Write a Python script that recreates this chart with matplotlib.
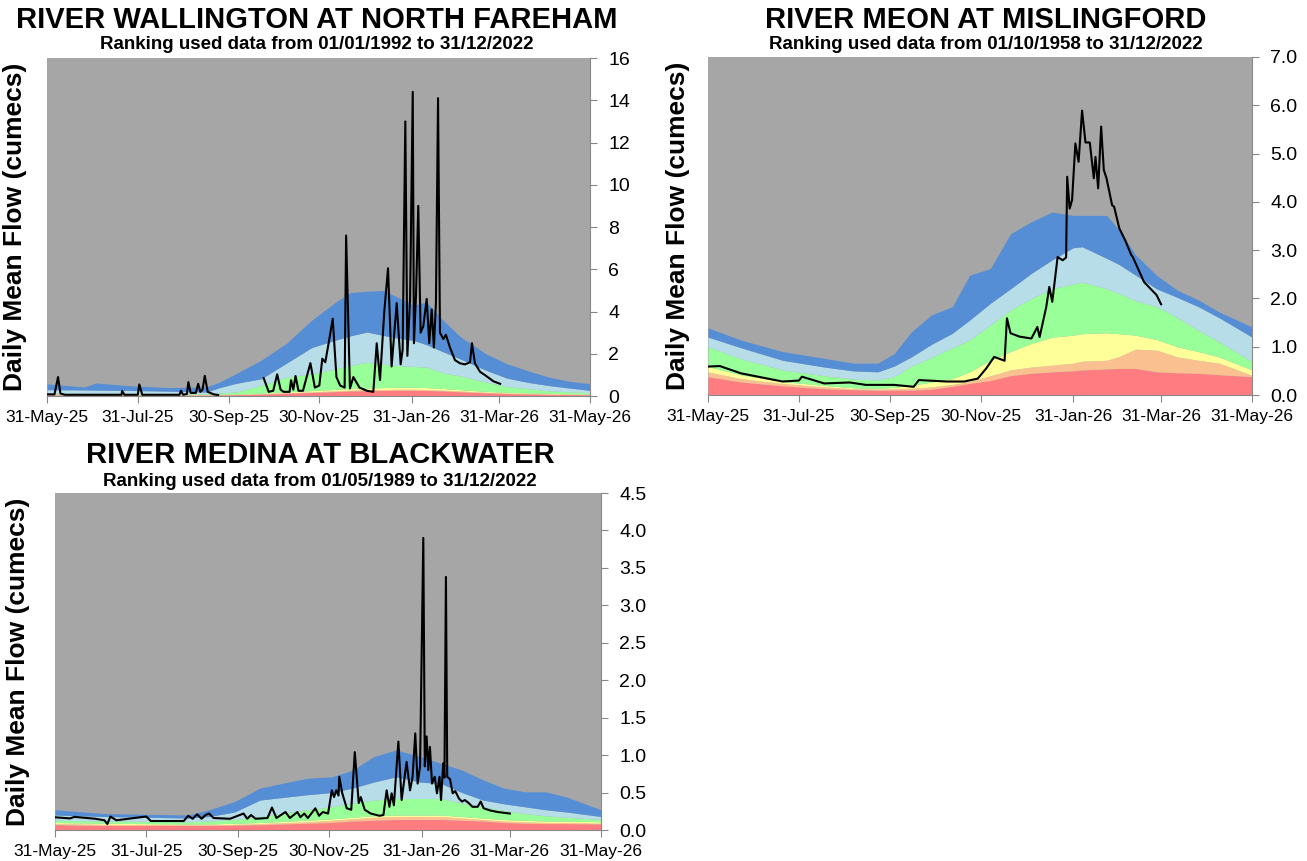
import numpy as np
import matplotlib.pyplot as plt
import matplotlib.dates as mdates

plt.rcParams['font.family'] = ['Liberation Sans', 'DejaVu Sans']

START = np.datetime64('2025-05-31')
tick_dates = ['2025-05-31', '2025-07-31', '2025-09-30', '2025-11-30',
              '2026-01-31', '2026-03-31', '2026-05-31']

band_colors = ['#FF7C80', '#FAC090', '#FFFF99', '#99FF99', '#B7DEE8', '#558ED5']
bg_grey = '#A6A6A6'

# ---- River Wallington at North Fareham ----
wal_band_days = [0, 25, 33, 53, 82, 107, 116, 127, 144, 161, 178, 195, 204, 215, 226,
                 235, 246, 255, 266, 278, 295, 309, 323, 337, 351, 365]
wal_blue = [0.58, 0.43, 0.62, 0.5, 0.4, 0.43, 0.66, 1.06, 1.7, 2.5, 3.6, 4.5, 4.9, 4.96, 5.0,
            4.7, 4.3, 4.45, 3.6, 2.8, 2.0, 1.53, 1.2, 0.9, 0.7, 0.58]
wal_lblue = [0.3, 0.29, 0.28, 0.27, 0.23, 0.19, 0.4, 0.6, 0.82, 1.56, 2.3, 2.67, 2.85, 3.03, 2.87,
             2.75, 2.64, 2.43, 2.1, 1.75, 1.22, 0.85, 0.65, 0.5, 0.38, 0.27]
wal_green = [0.14, 0.13, 0.13, 0.12, 0.11, 0.11, 0.15, 0.19, 0.5, 0.9, 1.05, 1.3, 1.45, 1.6, 1.5,
             1.45, 1.4, 1.37, 1.1, 0.95, 0.66, 0.45, 0.35, 0.25, 0.2, 0.16]
wal_yellow = [0.1, 0.09, 0.09, 0.08, 0.08, 0.08, 0.09, 0.1, 0.14, 0.2, 0.26, 0.32, 0.36, 0.38, 0.4,
              0.42, 0.42, 0.4, 0.36, 0.3, 0.22, 0.18, 0.15, 0.13, 0.11, 0.1]
wal_orange = [0.07, 0.07, 0.07, 0.06, 0.06, 0.06, 0.07, 0.08, 0.11, 0.16, 0.2, 0.25, 0.28, 0.3, 0.31,
              0.32, 0.32, 0.31, 0.28, 0.24, 0.18, 0.14, 0.12, 0.1, 0.09, 0.08]
wal_red = [0.05, 0.05, 0.05, 0.04, 0.04, 0.04, 0.05, 0.06, 0.09, 0.13, 0.17, 0.21, 0.24, 0.25, 0.26,
           0.27, 0.27, 0.26, 0.24, 0.2, 0.15, 0.12, 0.1, 0.08, 0.07, 0.06]

wal_flow_days = [0, 5, 7.4, 9, 12, 50, 50.5, 52, 61, 62, 64, 89, 90, 91.5, 94, 95, 96.5, 100, 101.6,
                 103, 104.5, 106, 108, 112, 115, 116,
                 145.6, 149, 152, 154.7, 157, 159, 163, 164, 165.5, 167, 169, 172, 177, 180, 183,
                 185, 187, 189, 192, 194.5, 197, 200, 201, 203.6, 205.9, 210, 215, 219.3, 221.6,
                 223.8, 226.7, 229.2, 231.6, 235, 237.7, 239, 240.8, 242.2, 244, 245.8, 246.6, 248,
                 249.5, 251.1, 252.9, 255.2, 256.9, 258.5, 260, 261.4, 262.8, 264.1, 266.4, 268.1,
                 270.8, 274.2, 277.6, 280.9, 284.3, 285.6, 287.6, 291, 294.6, 300, 304.5]
wal_flow = [0.08, 0.08, 0.9, 0.12, 0.06, 0.06, 0.24, 0.06, 0.06, 0.55, 0.06, 0.06, 0.25, 0.06, 0.1,
            0.66, 0.15, 0.15, 0.58, 0.2, 0.3, 0.96, 0.2, 0.08, 0.05, np.nan,
            0.85, 0.2, 0.25, 1.03, 0.3, 0.2, 0.2, 0.75, 0.3, 0.95, 0.25, 0.25, 1.56, 0.4, 0.5,
            1.77, 1.6, 2.4, 3.66, 0.9, 0.5, 0.4, 7.6, 0.36, 0.9, 0.4, 0.25, 0.2, 2.5,
            0.76, 4.0, 6.05, 1.4, 4.4, 1.5, 2.2, 13.0, 1.9, 4.6, 14.4, 2.5, 4.8,
            9.0, 3.0, 3.3, 4.6, 2.5, 4.1, 2.3, 4.4, 14.1, 3.0, 2.7, 2.9,
            2.3, 1.7, 1.55, 1.5, 1.6, 2.5, 1.55, 1.15, 0.98, 0.7, 0.58]

# ---- River Meon at Mislingford ----
meon_band_days = [0, 22, 50, 78, 97.5, 114, 125, 136.5, 150, 164, 175.5, 189.5, 203, 217, 231,
                  245, 251, 267.5, 276, 287, 301, 315, 329, 343, 365]
meon_blue = [1.39, 1.14, 0.9, 0.76, 0.66, 0.66, 0.86, 1.31, 1.66, 1.83, 2.48, 2.62, 3.34, 3.59, 3.79,
             3.72, 3.72, 3.72, 3.41, 2.9, 2.48, 2.17, 1.97, 1.72, 1.41]
meon_lblue = [1.2, 0.98, 0.72, 0.58, 0.5, 0.48, 0.6, 0.79, 1.05, 1.28, 1.55, 1.9, 2.2, 2.52, 2.8,
              3.05, 3.07, 2.83, 2.7, 2.48, 2.2, 2.02, 1.83, 1.6, 1.2]
meon_green = [1.0, 0.75, 0.52, 0.4, 0.33, 0.31, 0.38, 0.6, 0.78, 0.98, 1.14, 1.45, 1.76, 2.0, 2.2,
              2.3, 2.34, 2.2, 2.1, 1.95, 1.83, 1.6, 1.34, 1.1, 0.69]
meon_yellow = [0.59, 0.42, 0.28, 0.2, 0.15, 0.14, 0.16, 0.2, 0.27, 0.34, 0.48, 0.72, 0.9, 1.07, 1.2,
               1.24, 1.27, 1.29, 1.27, 1.24, 1.15, 1.0, 0.9, 0.79, 0.52]
meon_orange = [0.48, 0.34, 0.24, 0.17, 0.13, 0.12, 0.13, 0.14, 0.17, 0.22, 0.28, 0.4, 0.52, 0.58, 0.62,
               0.66, 0.7, 0.72, 0.8, 0.95, 0.93, 0.79, 0.72, 0.66, 0.41]
meon_red = [0.38, 0.27, 0.19, 0.13, 0.11, 0.1, 0.1, 0.1, 0.12, 0.18, 0.24, 0.3, 0.4, 0.45, 0.48,
            0.5, 0.52, 0.54, 0.55, 0.55, 0.48, 0.46, 0.45, 0.42, 0.38]

meon_flow_days = [0, 8, 22, 50, 61, 63, 78, 95, 106, 125, 138, 141.5, 160, 172, 181, 186.7, 192,
                  199, 200.6, 203, 209, 217, 221, 222.5, 227, 229, 231, 234.6, 238, 240.3, 241,
                  242.7, 244.3, 246.5, 248.7, 251, 253.3, 256.2, 258.9, 260, 261.8, 263.8, 265.6,
                  267.4, 271.2, 272.5, 276, 280, 284, 285, 292.6, 301, 304]
meon_flow = [0.59, 0.6, 0.45, 0.28, 0.3, 0.38, 0.24, 0.26, 0.21, 0.21, 0.17, 0.31, 0.28, 0.28,
             0.34, 0.55, 0.79, 0.71, 1.59, 1.28, 1.21, 1.17, 1.41, 1.2, 1.83, 2.24, 1.93, 2.86,
             2.79, 2.85, 4.52, 3.86, 4.04, 5.21, 4.83, 5.89, 5.23, 5.23, 4.49, 4.93, 4.28, 5.56,
             4.66, 4.49, 3.93, 3.9, 3.45, 3.2, 2.9, 2.86, 2.34, 2.07, 1.88]

# ---- River Medina at Blackwater ----
med_band_days = [0, 33, 89, 103, 120, 137, 168, 185, 199, 213, 228, 244, 258, 272, 286, 300, 314,
                 328, 342, 365]
med_blue = [0.27, 0.22, 0.2, 0.27, 0.38, 0.56, 0.69, 0.71, 0.8, 0.98, 1.07, 0.98, 0.89, 0.8, 0.67,
            0.56, 0.51, 0.51, 0.44, 0.27]
med_lblue = [0.2, 0.18, 0.16, 0.18, 0.24, 0.4, 0.47, 0.5, 0.56, 0.64, 0.71, 0.64, 0.62, 0.5, 0.4,
             0.35, 0.31, 0.27, 0.24, 0.18]
med_green = [0.13, 0.12, 0.11, 0.12, 0.14, 0.18, 0.27, 0.31, 0.36, 0.4, 0.42, 0.42, 0.42, 0.36,
             0.31, 0.26, 0.22, 0.19, 0.17, 0.14]
med_yellow = [0.1, 0.09, 0.08, 0.08, 0.09, 0.1, 0.13, 0.15, 0.17, 0.19, 0.2, 0.2, 0.2, 0.18, 0.16,
              0.14, 0.13, 0.12, 0.12, 0.11]
med_orange = [0.085, 0.075, 0.07, 0.07, 0.075, 0.085, 0.11, 0.13, 0.15, 0.17, 0.18, 0.18, 0.18,
              0.16, 0.14, 0.12, 0.11, 0.1, 0.1, 0.09]
med_red = [0.07, 0.06, 0.06, 0.06, 0.065, 0.07, 0.09, 0.1, 0.12, 0.13, 0.14, 0.14, 0.14, 0.13,
           0.12, 0.1, 0.09, 0.085, 0.085, 0.08]

med_flow_days = [0, 10, 13, 27, 33, 35, 37, 41, 61, 64, 86, 89, 92, 95, 98, 100.6, 103, 106, 117,
                 126, 128.5, 131, 134, 142, 145, 148, 154, 157, 162, 164, 166.6, 169, 174, 176.5,
                 179, 182.5, 185, 186.5, 188, 189.5, 190, 192, 195, 198, 200.4, 203, 204.4, 207,
                 211, 215, 217, 219.5, 221.7, 223.5, 225, 226.5, 229.5, 231.7, 235, 237.3, 239,
                 240.8, 242.4, 244, 246.2, 247.2, 248.4, 249.5, 250.6, 252, 253.8, 255.3, 257,
                 258, 259.5, 260.3, 261.3, 262.2, 264, 265.8, 267.5, 270, 272, 274, 276.5, 279,
                 282.5, 284.5, 286.5, 291, 296, 304]
med_flow = [0.17, 0.155, 0.175, 0.15, 0.13, 0.08, 0.18, 0.13, 0.18, 0.12, 0.12, 0.19, 0.15, 0.21,
            0.15, 0.2, 0.22, 0.16, 0.15, 0.22, 0.15, 0.2, 0.15, 0.16, 0.3, 0.16, 0.24, 0.16,
            0.24, 0.17, 0.22, 0.16, 0.29, 0.19, 0.24, 0.22, 0.53, 0.44, 0.53, 0.46, 0.71, 0.49,
            0.29, 0.27, 1.04, 0.36, 0.44, 0.27, 0.22, 0.2, 0.19, 0.2, 0.53, 0.31, 0.49, 0.33,
            1.18, 0.4, 0.91, 0.53, 0.71, 1.29, 0.62, 0.85, 3.9, 0.85, 1.25, 0.8, 1.11, 0.62,
            0.71, 0.49, 0.71, 0.4, 0.89, 0.7, 3.38, 0.71, 0.68, 0.49, 0.52, 0.42, 0.38, 0.4,
            0.36, 0.31, 0.31, 0.38, 0.29, 0.26, 0.24, 0.22]


def to_dates(days):
    return START + (np.array(days) * 24).astype('timedelta64[h]')


def draw_panel(rect, band_days, bands, flow_days, flow, ymax, ystep, fmt, ylabel_x):
    ax = fig.add_axes(rect)
    ax.set_facecolor(bg_grey)
    bx = to_dates(band_days)
    lower = np.zeros(len(band_days))
    for top, col in zip(bands, band_colors):
        top = np.array(top)
        ax.fill_between(bx, lower, top, color=col, linewidth=0)
        lower = top
    ax.plot(to_dates(flow_days), flow, color='black', lw=1.5)

    ax.set_xlim(np.datetime64('2025-05-31'), np.datetime64('2026-05-31'))
    ax.set_ylim(0, ymax)
    ax.set_xticks([np.datetime64(d) for d in tick_dates])
    ax.xaxis.set_major_formatter(mdates.DateFormatter('%d-%b-%y'))
    ax.set_yticks(np.arange(0, ymax + ystep / 2, ystep))
    ax.yaxis.set_major_formatter(plt.FormatStrFormatter(fmt))
    ax.yaxis.tick_right()
    ax.tick_params(axis='y', labelsize=14, color='#888888', length=5, pad=8)
    ax.tick_params(axis='x', labelsize=12.5, color='#888888', length=5, pad=5)
    for s in ['left', 'top']:
        ax.spines[s].set_visible(False)
    for s in ['right', 'bottom']:
        ax.spines[s].set_color('#888888')
    ax.set_ylabel('Daily Mean Flow (cumecs)', fontsize=19, fontweight='bold')
    ax.yaxis.set_label_coords(ylabel_x, 0.5)
    return ax


fig = plt.figure(figsize=(13.07, 8.61), dpi=100)

draw_panel([0.036, 0.540, 0.4155, 0.3926], wal_band_days,
           [wal_red, wal_orange, wal_yellow, wal_green, wal_lblue, wal_blue],
           wal_flow_days, wal_flow, 16, 2, '%d', -0.037)
draw_panel([0.5417, 0.5412, 0.4162, 0.3926], meon_band_days,
           [meon_red, meon_orange, meon_yellow, meon_green, meon_lblue, meon_blue],
           meon_flow_days, meon_flow, 7, 1, '%.1f', -0.033)
draw_panel([0.0421, 0.036, 0.4178, 0.3914], med_band_days,
           [med_red, med_orange, med_yellow, med_green, med_lblue, med_blue],
           med_flow_days, med_flow, 4.5, 0.5, '%.1f', -0.046)

titles = [('RIVER WALLINGTON AT NORTH FAREHAM', 'Ranking used data from 01/01/1992 to 31/12/2022',
           0.242, 0.977, 0.948),
          ('RIVER MEON AT MISLINGFORD', 'Ranking used data from 01/10/1958 to 31/12/2022',
           0.754, 0.977, 0.948),
          ('RIVER MEDINA AT BLACKWATER', 'Ranking used data from 01/05/1989 to 31/12/2022',
           0.245, 0.471, 0.441)]
for t, sub, x, y1, y2 in titles:
    fig.text(x, y1, t, ha='center', va='center', fontsize=21, fontweight='bold')
    fig.text(x, y2, sub, ha='center', va='center', fontsize=13.5, fontweight='bold')

fig.savefig('out.png', dpi=100)
